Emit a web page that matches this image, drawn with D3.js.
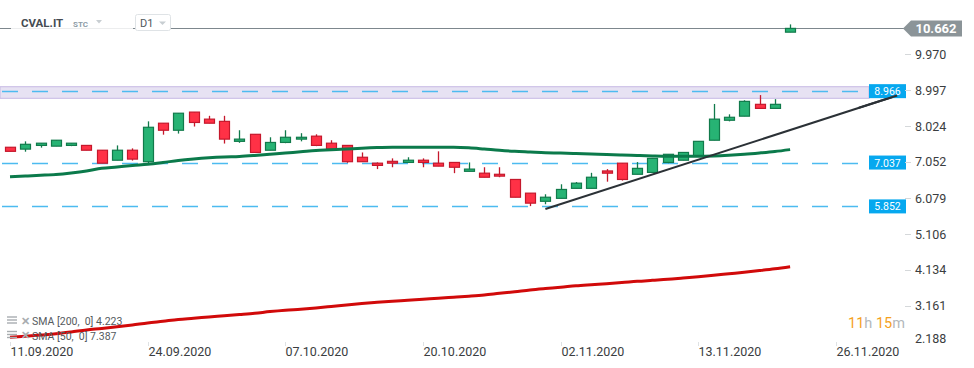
<!DOCTYPE html>
<html><head><meta charset="utf-8">
<script src="https://cdn.jsdelivr.net/npm/d3@7"></script>
<style>
html,body{margin:0;padding:0;background:#fff;}
svg{display:block;font-family:Roboto, "Noto Sans", sans-serif;}
</style></head>
<body><svg id="c" width="974" height="368"></svg>
<script>
// ---- data ----
const dates = ["11.09.2020","14.09.2020","15.09.2020","16.09.2020","17.09.2020","18.09.2020","21.09.2020","22.09.2020","23.09.2020","24.09.2020","25.09.2020","28.09.2020","29.09.2020","30.09.2020","01.10.2020","02.10.2020","05.10.2020","06.10.2020","07.10.2020","08.10.2020","09.10.2020","12.10.2020","13.10.2020","14.10.2020","15.10.2020","16.10.2020","19.10.2020","20.10.2020","21.10.2020","22.10.2020","23.10.2020","26.10.2020","27.10.2020","28.10.2020","29.10.2020","30.10.2020","02.11.2020","03.11.2020","04.11.2020","05.11.2020","06.11.2020","09.11.2020","10.11.2020","11.11.2020","12.11.2020","13.11.2020","16.11.2020","17.11.2020","18.11.2020","19.11.2020","20.11.2020","23.11.2020"];
const futureDates = ["24.11.2020","25.11.2020","26.11.2020","27.11.2020","30.11.2020","01.12.2020","02.12.2020"];
const open  = [7.45,7.40,7.50,7.48,7.50,7.50,7.37,7.10,7.37,7.06,8.10,7.91,8.40,8.21,8.15,7.61,7.80,7.37,7.58,7.67,7.75,7.56,7.50,7.18,7.02,7.07,7.04,7.10,7.02,7.04,6.80,6.75,6.72,6.58,6.21,5.99,6.07,6.34,6.34,6.81,7.02,6.72,6.77,7.04,7.10,7.21,7.64,8.18,8.29,8.61,8.50,10.56];
const high  = [7.45,7.61,7.56,7.64,7.56,7.50,7.37,7.50,7.42,8.15,8.10,8.37,8.40,8.30,8.30,7.91,7.80,7.72,7.91,7.83,7.80,7.64,7.50,7.31,7.04,7.15,7.18,7.15,7.34,7.04,7.04,6.91,6.91,6.58,6.21,6.18,6.45,6.51,6.76,6.86,7.02,7.05,7.15,7.26,7.31,7.61,8.62,8.34,8.72,8.86,8.75,10.77];
const low   = [7.34,7.33,7.44,7.48,7.48,7.37,7.02,7.10,7.09,7.00,7.79,7.82,8.01,8.10,7.55,7.57,7.31,7.37,7.56,7.61,7.48,7.40,7.03,7.06,6.86,6.91,7.04,6.91,6.94,6.75,6.80,6.64,6.64,6.10,5.86,5.91,6.07,6.34,6.34,6.52,6.55,6.72,6.77,7.02,7.10,7.21,7.64,8.15,8.29,8.50,8.50,10.56];
const close = [7.34,7.53,7.56,7.64,7.56,7.37,7.02,7.37,7.13,7.99,7.91,8.37,8.12,8.10,7.67,7.67,7.31,7.58,7.72,7.72,7.50,7.40,7.06,7.06,6.96,7.02,7.10,7.04,6.94,6.91,6.86,6.64,6.67,6.10,5.94,6.10,6.31,6.48,6.64,6.75,6.58,6.88,7.15,7.26,7.31,7.61,8.21,8.26,8.69,8.50,8.61,10.662];
const sma50 = [6.655,6.673,6.692,6.714,6.755,6.809,6.882,6.917,6.957,6.990,7.038,7.092,7.133,7.165,7.187,7.200,7.227,7.260,7.295,7.327,7.362,7.381,7.403,7.425,7.441,7.449,7.449,7.449,7.449,7.449,7.435,7.403,7.368,7.341,7.322,7.303,7.295,7.282,7.268,7.255,7.241,7.227,7.214,7.206,7.206,7.208,7.214,7.233,7.260,7.295,7.335,7.387];
const sma200 = [2.315,2.345,2.377,2.410,2.458,2.513,2.553,2.599,2.648,2.702,2.748,2.796,2.829,2.864,2.896,2.929,2.964,3.010,3.047,3.074,3.107,3.147,3.188,3.228,3.261,3.291,3.315,3.342,3.372,3.399,3.426,3.458,3.504,3.547,3.593,3.631,3.666,3.707,3.736,3.763,3.793,3.828,3.855,3.882,3.917,3.952,3.990,4.031,4.071,4.117,4.166,4.223];
const yTicks = [9.970,8.997,8.024,7.052,6.079,5.106,4.134,3.161,2.188];
const xTickLabels = ["11.09.2020","24.09.2020","07.10.2020","20.10.2020","02.11.2020","13.11.2020","26.11.2020"];
const lastPrice = 10.662;
const levels = [8.966, 7.037, 5.852];
const zoneLow = 8.773, zoneHigh = 9.086;
const trendIdx = [35, 58];
const trendVal = [5.78, 8.85];
const legendItems = ["SMA [200,  0] 4.223", "SMA [50,  0] 7.387"];

// ---- scales ----
const svg = d3.select("#c");
const allDates = dates.concat(futureDates);
const x = d3.scaleLinear().domain([0, 54]).range([10, 836]);
const xi = d => allDates.indexOf(d);
const y = d3.scaleLinear().domain([2.188, 9.970]).range([342, 54]);
const step = x(1) - x(0);

// ---- zone ----
svg.append("rect").attr("x", 0).attr("y", y(zoneHigh)).attr("width", 869).attr("height", y(zoneLow) - y(zoneHigh))
  .attr("fill", "#e7e2f3").attr("stroke", "#c6b9e4").attr("stroke-width", 1);

// ---- level dashed lines ----
levels.forEach(v => {
  svg.append("line").attr("x1", 2).attr("x2", 869).attr("y1", Math.round(y(v)) + 0.5).attr("y2", Math.round(y(v)) + 0.5)
    .attr("stroke", "#4dbbf0").attr("stroke-width", 1.3).attr("stroke-dasharray", "16,14");
});

// ---- last price line ----
svg.append("line").attr("x1", 0).attr("x2", 905).attr("y1", Math.round(y(lastPrice)) + 0.5).attr("y2", Math.round(y(lastPrice)) + 0.5)
  .attr("stroke", "#7d878d").attr("stroke-width", 1);

// ---- SMA lines ----
const lineGen = d3.line().x((d, i) => x(i)).y(d => y(d)).curve(d3.curveMonotoneX);
svg.append("path").datum(sma200).attr("d", lineGen).attr("fill", "none").attr("stroke", "#d10a0a").attr("stroke-width", 3);

// ---- candles ----
const bw = 10;
const cg = svg.append("g");
dates.forEach((d, i) => {
  const up = close[i] >= open[i];
  const fill = up ? "#27b374" : "#ff3146";
  const st = up ? "#117a4b" : "#c5182c";
  const cx = Math.round(x(xi(d))) + 0.5;
  cg.append("line").attr("x1", cx).attr("x2", cx).attr("y1", y(high[i])).attr("y2", y(low[i])).attr("stroke", st).attr("stroke-width", 1.3);
  const top = y(Math.max(open[i], close[i])), bot = y(Math.min(open[i], close[i]));
  cg.append("rect").attr("x", cx - bw / 2).attr("y", top).attr("width", bw).attr("height", Math.max(1.5, bot - top))
    .attr("fill", fill).attr("stroke", st).attr("stroke-width", 1.2);
});

svg.append("path").datum(sma50).attr("d", lineGen).attr("fill", "none").attr("stroke", "#0b7a4b").attr("stroke-width", 3);

// ---- trend line ----
svg.append("line").attr("x1", x(trendIdx[0])).attr("y1", y(trendVal[0])).attr("x2", x(trendIdx[1])).attr("y2", y(trendVal[1]))
  .attr("stroke", "#2b3136").attr("stroke-width", 2);

// ---- level labels ----
levels.forEach(v => {
  const g = svg.append("g");
  g.append("rect").attr("x", 869).attr("y", y(v) - 7).attr("width", 37).attr("height", 14).attr("fill", "#06a8ef");
  g.append("text").attr("x", 887.5).attr("y", y(v) + 4).attr("text-anchor", "middle").attr("fill", "#fff")
    .attr("font-size", 10.5).text(d3.format(".3f")(v));
});
// trend line end passes over label
svg.append("line").attr("x1", x(55.5)).attr("y1", y(trendVal[0] + (trendVal[1]-trendVal[0])*(55.5-trendIdx[0])/(trendIdx[1]-trendIdx[0])))
  .attr("x2", x(trendIdx[1])).attr("y2", y(trendVal[1])).attr("stroke", "#2b3136").attr("stroke-width", 2);

// ---- y axis ----
const yg = svg.append("g");
yTicks.forEach((t, k) => {
  const last = k === yTicks.length - 1;
  const yy = last ? y(t) - 4 : y(t);
  if (!last) yg.append("line").attr("x1", 905).attr("x2", 911).attr("y1", Math.round(yy) + 0.5).attr("y2", Math.round(yy) + 0.5).attr("stroke", "#d5d8da");
  yg.append("text").attr("x", 915).attr("y", yy + 4.5).attr("fill", "#3a3d40").attr("font-size", 12.5).text(d3.format(".3f")(t));
});

// last price label
const lp = y(lastPrice);
svg.append("path").attr("d", `M903,${lp} L911,${lp-8} L962,${lp-8} L962,${lp+8} L911,${lp+8} Z`).attr("fill", "#8b9498");
svg.append("text").attr("x", 936).attr("y", lp + 4.8).attr("text-anchor", "middle").attr("fill", "#fff")
  .attr("font-size", 13).attr("font-weight", "bold").text(d3.format(".3f")(lastPrice));

// ---- x axis ----
const xg = svg.append("g");
xTickLabels.forEach(lbl => {
  const xx = Math.round(x(xi(lbl))) + 0.5;
  xg.append("line").attr("x1", xx).attr("x2", xx).attr("y1", 342).attr("y2", 346).attr("stroke", "#dfe2e4");
  xg.append("text").attr("x", xx).attr("y", 356).attr("fill", "#3a3d40").attr("font-size", 12.5).text(lbl);
});

// ---- timer ----
const tt = svg.append("text").attr("x", 848).attr("y", 328).attr("font-size", 14.5);
tt.append("tspan").attr("fill", "#f5a11d").text("11");
tt.append("tspan").attr("fill", "#b3b8bb").text("h ");
tt.append("tspan").attr("fill", "#f5a11d").text("15");
tt.append("tspan").attr("fill", "#b3b8bb").text("m");

// ---- legend ----
legendItems.forEach((s, k) => {
  const ly = 321 + k * 14.5;
  const g = svg.append("g");
  [ -3, 0, 3 ].forEach(o => g.append("line").attr("x1", 7).attr("x2", 17).attr("y1", ly + o - 1).attr("y2", ly + o - 1).attr("stroke", "#a8adb0").attr("stroke-width", 1.4));
  g.append("text").attr("x", 21).attr("y", ly + 3.5).attr("fill", "#a8adb0").attr("font-size", 11).attr("font-weight", "bold").text("✕");
  g.append("text").attr("x", 32).attr("y", ly + 4).attr("fill", "#555a5e").attr("font-size", 10.5).style("white-space", "pre").text(s);
});

// ---- header ----
svg.append("rect").attr("x", 11).attr("y", 12).attr("width", 122).attr("height", 17).attr("fill", "#fff").attr("opacity", 0.85);
svg.append("text").attr("x", 21).attr("y", 27).attr("fill", "#454c52").attr("font-size", 11.5).attr("font-weight", "bold").text("CVAL.IT");
svg.append("text").attr("x", 73).attr("y", 27).attr("fill", "#8d9ca7").attr("font-size", 8).attr("font-weight", "bold").text("STC");
svg.append("path").attr("d", "M96,20 L102,20 L99,23.5 Z").attr("fill", "#c8ced2");
svg.append("rect").attr("x", 135.5).attr("y", 14.5).attr("width", 35).attr("height", 16).attr("rx", 2).attr("fill", "#fff").attr("stroke", "#dfe3e6");
svg.append("text").attr("x", 140).attr("y", 27).attr("fill", "#50575c").attr("font-size", 11).text("D1");
svg.append("path").attr("d", "M159,21.5 L166,21.5 L162.5,25 Z").attr("fill", "#c8ced2");
</script></body></html>
